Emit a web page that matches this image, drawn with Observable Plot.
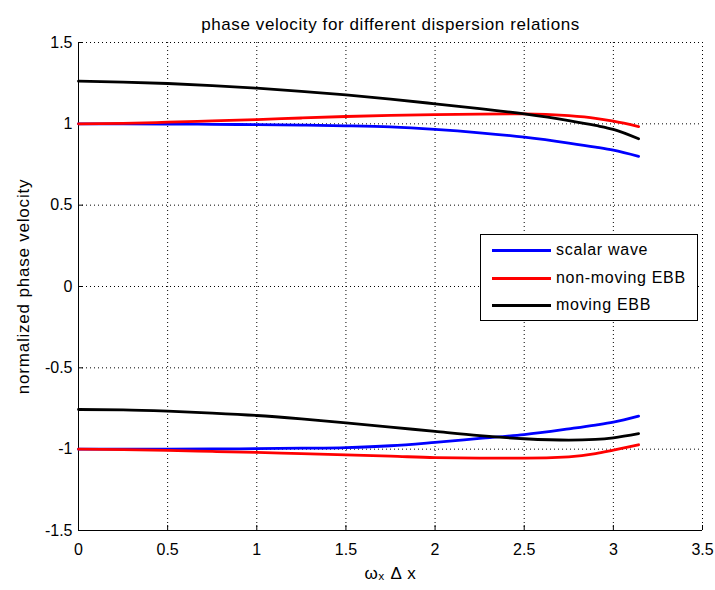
<!DOCTYPE html>
<html>
<head>
<meta charset="utf-8">
<script src="https://cdn.jsdelivr.net/npm/d3@7"></script>
<script src="https://cdn.jsdelivr.net/npm/@observablehq/plot@0.6"></script>
<style>
  html, body { margin: 0; padding: 0; background: #fff; }
  #wrap { position: relative; width: 715px; height: 590px; }
  #legend { position: absolute; left: 480px; top: 234px; width: 216px; height: 85px;
    border: 1px solid #000; background: #fff; font-family: "Liberation Sans", Arial, sans-serif;
    font-size: 16px; letter-spacing: 0.7px; color: #000; }
  .row { position: absolute; left: 0; height: 20px; }
  .row .ln { position: absolute; left: 11px; width: 59px; height: 3px; top: 9px; }
  .row .tx { position: absolute; left: 75px; top: 0px; white-space: nowrap; line-height: 20px; }
</style>
</head>
<body>
<div id="wrap"></div>
<script>
// x: omega_x * delta x
const xs = [0, 0.25, 0.5, 0.75, 1, 1.25, 1.5, 1.75, 2, 2.25, 2.5, 2.75, 2.9, 3, 3.1416];

// upper branches
const scalarUpper    = [1.0, 1.0, 0.999, 0.997, 0.995, 0.992, 0.988, 0.981, 0.966, 0.945, 0.918, 0.882, 0.857, 0.838, 0.80];
const nonMovingUpper = [1.0, 1.003, 1.01, 1.018, 1.026, 1.036, 1.045, 1.052, 1.057, 1.06, 1.061, 1.05, 1.034, 1.016, 0.983];
const movingUpper    = [1.262, 1.257, 1.248, 1.235, 1.219, 1.2, 1.178, 1.152, 1.123, 1.093, 1.061, 1.02, 0.99, 0.966, 0.908];

// lower branches
const scalarLower    = [-1.0, -1.0, -1.0, -0.999, -0.997, -0.994, -0.99, -0.979, -0.958, -0.934, -0.91, -0.875, -0.852, -0.834, -0.797];
const nonMovingLower = [-1.0, -1.003, -1.008, -1.014, -1.02, -1.028, -1.035, -1.043, -1.052, -1.055, -1.055, -1.047, -1.028, -1.006, -0.973];
const movingLower    = [-0.756, -0.758, -0.766, -0.778, -0.793, -0.814, -0.838, -0.864, -0.891, -0.917, -0.936, -0.945, -0.94, -0.93, -0.905];

const seriesNames = ["scalar wave", "non-moving EBB", "moving EBB"];
const seriesColors = ["#0000ff", "#ff0000", "#000000"];
const xTicks = [0, 0.5, 1, 1.5, 2, 2.5, 3, 3.5];
const yTicks = [-1.5, -1, -0.5, 0, 0.5, 1, 1.5];
const titleText = "phase velocity for different dispersion relations";
const yLabel = "normalized phase velocity";
const xLabel = "ωₓ Δ x";

const branches = [
  [scalarUpper, 0, "u"], [scalarLower, 0, "l"],
  [nonMovingUpper, 1, "u"], [nonMovingLower, 1, "l"],
  [movingUpper, 2, "u"], [movingLower, 2, "l"]
];
const rows = [];
for (const [vals, si, b] of branches) {
  vals.forEach((v, i) => rows.push({x: xs[i], y: v, series: seriesNames[si], key: seriesNames[si] + b}));
}

const font = "'Liberation Sans', Arial, sans-serif";

const chart = Plot.plot({
  width: 715,
  height: 590,
  marginLeft: 78,
  marginRight: 13,
  marginTop: 42,
  marginBottom: 60,
  style: {fontFamily: font, fontSize: "16px", background: "#fff", color: "#000"},
  x: {domain: [0, 3.5], ticks: xTicks},
  y: {domain: [-1.5, 1.5], ticks: yTicks},
  color: {domain: seriesNames, range: seriesColors},
  marks: [
    Plot.gridX(xTicks, {stroke: "#000", strokeOpacity: 1, strokeWidth: 1, strokeDasharray: "1,3"}),
    Plot.gridY(yTicks, {stroke: "#000", strokeOpacity: 1, strokeWidth: 1, strokeDasharray: "1,3"}),
    Plot.ruleX([0], {stroke: "#000"}),
    Plot.ruleY([-1.5], {stroke: "#000"}),
    Plot.axisX(xTicks, {tickSize: 5, dy: -5, text: null, label: null, stroke: "#000"}),
    Plot.axisY(yTicks, {tickSize: 5, dx: 5, text: null, label: null, stroke: "#000"}),
    Plot.axisX(xTicks, {tickSize: 0, tickPadding: 13, tickFormat: d => String(d), fontSize: 16,
      label: xLabel, labelAnchor: "center", labelArrow: "none", labelOffset: 48}),
    Plot.axisY(yTicks, {tickSize: 0, tickPadding: 6, tickFormat: d => String(d), fontSize: 16,
      label: yLabel, labelAnchor: "center", labelArrow: "none", labelOffset: 62}),
    Plot.line(rows, {x: "x", y: "y", z: "key", stroke: "series", strokeWidth: 2.8, curve: "monotone-x"}),
    Plot.text([titleText], {frameAnchor: "top", dy: -25, fontSize: 17, fontFamily: font})
  ]
});

const wrap = document.getElementById("wrap");
wrap.appendChild(chart);

// style axis labels and title spacing
d3.select(chart).selectAll("g[aria-label='x-axis label'] text")
  .attr("font-size", 17).style("letter-spacing", "0.8px");
d3.select(chart).selectAll("g[aria-label='y-axis label'] text")
  .attr("font-size", 17).style("letter-spacing", "0.8px");
d3.select(chart).selectAll("g[aria-label='text'] text")
  .style("letter-spacing", "0.6px");

// legend (HTML overlay)
const legend = document.createElement("div");
legend.id = "legend";
seriesNames.forEach((name, i) => {
  const row = document.createElement("div");
  row.className = "row";
  row.style.top = (5 + i * 27.5) + "px";
  const ln = document.createElement("div");
  ln.className = "ln";
  ln.style.background = seriesColors[i];
  const tx = document.createElement("div");
  tx.className = "tx";
  tx.textContent = name;
  row.appendChild(ln); row.appendChild(tx);
  legend.appendChild(row);
});
wrap.appendChild(legend);
</script>
</body>
</html>
